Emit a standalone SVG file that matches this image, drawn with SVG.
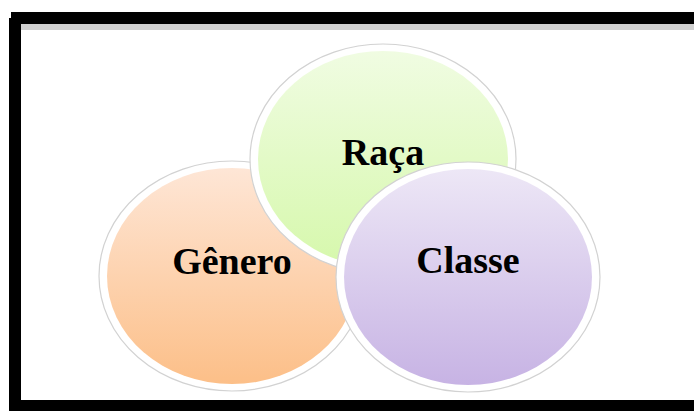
<svg xmlns="http://www.w3.org/2000/svg" width="694" height="411" viewBox="0 0 694 411">
<defs>
<linearGradient id="gOrange" x1="0" y1="0" x2="0" y2="1">
<stop offset="0" stop-color="#fee6d6"/>
<stop offset="1" stop-color="#fcbf88"/>
</linearGradient>
<linearGradient id="gGreen" x1="0" y1="0" x2="0" y2="1">
<stop offset="0" stop-color="#f0fce2"/>
<stop offset="1" stop-color="#d6f8ac"/>
</linearGradient>
<linearGradient id="gPurple" x1="0" y1="0" x2="0" y2="1">
<stop offset="0" stop-color="#ede7f6"/>
<stop offset="1" stop-color="#c7b3e4"/>
</linearGradient>
<style>
.outer{fill:#ffffff;stroke:#d2d2d2;stroke-width:1.2}
.lbl{font-family:"Liberation Serif","Times New Roman",serif;font-weight:bold;font-size:38px;fill:#000;text-anchor:middle}
</style>
</defs>
<rect x="0" y="0" width="694" height="411" fill="#ffffff"/>
<g id="frame">
<rect x="11" y="12" width="683" height="12" fill="#000"/>
<rect x="21" y="24" width="673" height="6" fill="#d0d0d0"/>
<rect x="9" y="18" width="12" height="393" fill="#000"/>
<rect x="9" y="400" width="685" height="11" fill="#000"/>
</g>
<g id="genero">
<ellipse class="outer" cx="232" cy="276" rx="133" ry="115"/>
<ellipse cx="232" cy="276" rx="125" ry="108" fill="url(#gOrange)"/>
<text class="lbl" x="232" y="274">Gênero</text>
</g>
<g id="raca">
<ellipse class="outer" cx="383" cy="159" rx="133" ry="115"/>
<ellipse cx="383" cy="159" rx="125" ry="108" fill="url(#gGreen)"/>
<text class="lbl" x="383" y="165">Raça</text>
</g>
<g id="classe">
<ellipse class="outer" cx="468" cy="277" rx="132" ry="115"/>
<ellipse cx="468" cy="277" rx="124" ry="108" fill="url(#gPurple)"/>
<text class="lbl" x="468" y="273">Classe</text>
</g>
<g id="connectors"></g>
</svg>
